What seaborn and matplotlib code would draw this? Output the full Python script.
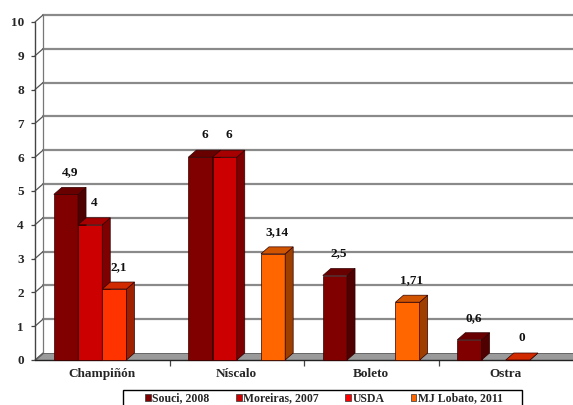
import matplotlib
matplotlib.use("Agg")
import matplotlib.pyplot as plt
import seaborn as sns
import pandas as pd
import numpy as np
from matplotlib.patches import Polygon, Patch, Rectangle
from matplotlib.lines import Line2D
import matplotlib.colors as mcolors

categories = ["Champiñón", "Níscalo", "Boleto", "Ostra"]
series = ["Souci, 2008", "Moreiras, 2007", "USDA", "MJ Lobato, 2011"]
souci = [4.9, 6, 2.5, 0.6]
moreiras = [4, 6, None, None]
usda = [2.1, None, None, 0]
lobato = [None, 3.14, 1.71, None]
bar_colors = ["#800000", "#CC0000", "#FF3300", "#FF6600"]
legend_colors = ["#800000", "#CC0000", "#FF0000", "#FF6600"]
y_ticks = list(range(0, 11))

rows = []
for s, vals in zip(series, [souci, moreiras, usda, lobato]):
    for c, v in zip(categories, vals):
        if v is not None:
            rows.append({"cat": c, "serie": s, "val": v})
df = pd.DataFrame(rows)

sns.set_style("white")
plt.rcParams["font.family"] = ["Liberation Serif", "DejaVu Serif"]
plt.rcParams["font.weight"] = "bold"

fig = plt.figure(figsize=(5.73, 4.05), dpi=100)
ax = fig.add_axes([35/573, 45/405, 538/573, 338/405])

sns.barplot(data=df, x="cat", y="val", hue="serie", order=categories,
            hue_order=series, palette=bar_colors, width=0.72, dodge=True,
            saturation=1, legend=False, ax=ax, edgecolor="#300000", linewidth=0.5,
            err_kws={"linewidth": 0})

ax.set_xlim(-0.5, 3.5)
ax.set_ylim(0, 10)
dx = 8 / 134.5
dy = 7 / 33.8

# back wall gridlines and left wall
for y in y_ticks:
    if y > 0:
        ax.add_line(Line2D([-0.5 + dx, 3.5 + dx], [y + dy, y + dy], color="#8a8a8a",
                           lw=1.6, zorder=0.5, clip_on=False))
    ax.add_line(Line2D([-0.5, -0.5 + dx], [y, y + dy], color="#555555", lw=0.9,
                       zorder=0.6, clip_on=False))
ax.add_line(Line2D([-0.5 + dx, -0.5 + dx], [dy, 10 + dy], color="#777777", lw=0.9,
                   zorder=0.6, clip_on=False))
ax.add_line(Line2D([-0.5, -0.5], [0, 10], color="#444444", lw=1.0, zorder=0.7,
                   clip_on=False))
# floor
ax.add_patch(Polygon([(-0.5, 0), (3.5 + dx, 0), (3.5 + dx, dy), (-0.5 + dx, dy)],
                     closed=True, facecolor="#9a9a9a", edgecolor="#555555", lw=0.6,
                     zorder=1, clip_on=False))
ax.add_line(Line2D([-0.5, 3.5], [0, 0], color="#222222", lw=1.0, zorder=1.1,
                   clip_on=False))

# 3D faces on bars
bars = [p for p in ax.patches if isinstance(p, Rectangle)
        and 0 < p.get_width() < 0.5]
bars.sort(key=lambda p: p.get_x())
for i, p in enumerate(bars):
    x, w, h = p.get_x(), p.get_width(), p.get_height()
    if np.isnan(h):
        continue
    fc = np.array(mcolors.to_rgb(p.get_facecolor()))
    z = 2 + i * 0.01
    p.set_zorder(z)
    p.set_clip_on(False)
    side = Polygon([(x + w, 0), (x + w + dx, dy), (x + w + dx, h + dy), (x + w, h)],
                   closed=True, facecolor=fc * 0.62, edgecolor="#300000", lw=0.5,
                   zorder=z + 0.001, clip_on=False)
    top = Polygon([(x, h), (x + w, h), (x + w + dx, h + dy), (x + dx, h + dy)],
                  closed=True, facecolor=fc * 0.82, edgecolor="#300000", lw=0.5,
                  zorder=z + 0.002, clip_on=False)
    ax.add_patch(side)
    ax.add_patch(top)
    lbl = f"{h:g}".replace(".", ",")
    ax.annotate(lbl, (x + w / 2 + dx / 2, h), xytext=(0, 16), textcoords="offset pixels",
                ha="center", va="bottom", fontsize=9.5, fontweight="bold",
                color="#111111", zorder=5)

for s in ax.spines.values():
    s.set_visible(False)
ax.set_xlabel("")
ax.set_ylabel("")
ax.set_yticks(y_ticks)
ax.set_yticklabels([str(t) for t in y_ticks], fontsize=9.5, fontweight="bold")
ax.tick_params(axis="y", length=3, width=0.9, color="#444444", pad=5, left=True)
ax.set_xticks(range(len(categories)))
ax.set_xticklabels(categories, fontsize=9.5, fontweight="bold")
ax.tick_params(axis="x", length=0, pad=6)
ax.set_xticks([0.5, 1.5, 2.5], minor=True)
ax.tick_params(axis="x", which="minor", length=4, width=0.9, color="#444444", bottom=True)
ax.grid(False)
ax.set_facecolor("none")

# legend frame (extends past the bottom edge like the reference)
fig.patches.append(Rectangle((123/573, -0.05), 399/573, 0.05 + (405 - 390)/405,
                             transform=fig.transFigure, fill=False,
                             edgecolor="black", lw=1.0, figure=fig))
handles = [Patch(facecolor=c, edgecolor="#333333", lw=0.5) for c in legend_colors]
fig.legend(handles, series, loc="center", bbox_to_anchor=(324/573, 1 - 398.5/405),
           ncol=4, frameon=False, handlelength=0.5, handleheight=0.5,
           handletextpad=0.15, borderpad=0, borderaxespad=0, columnspacing=2.2,
           prop={"weight": "bold", "size": 8.5})

fig.savefig("out.png", dpi=100)
